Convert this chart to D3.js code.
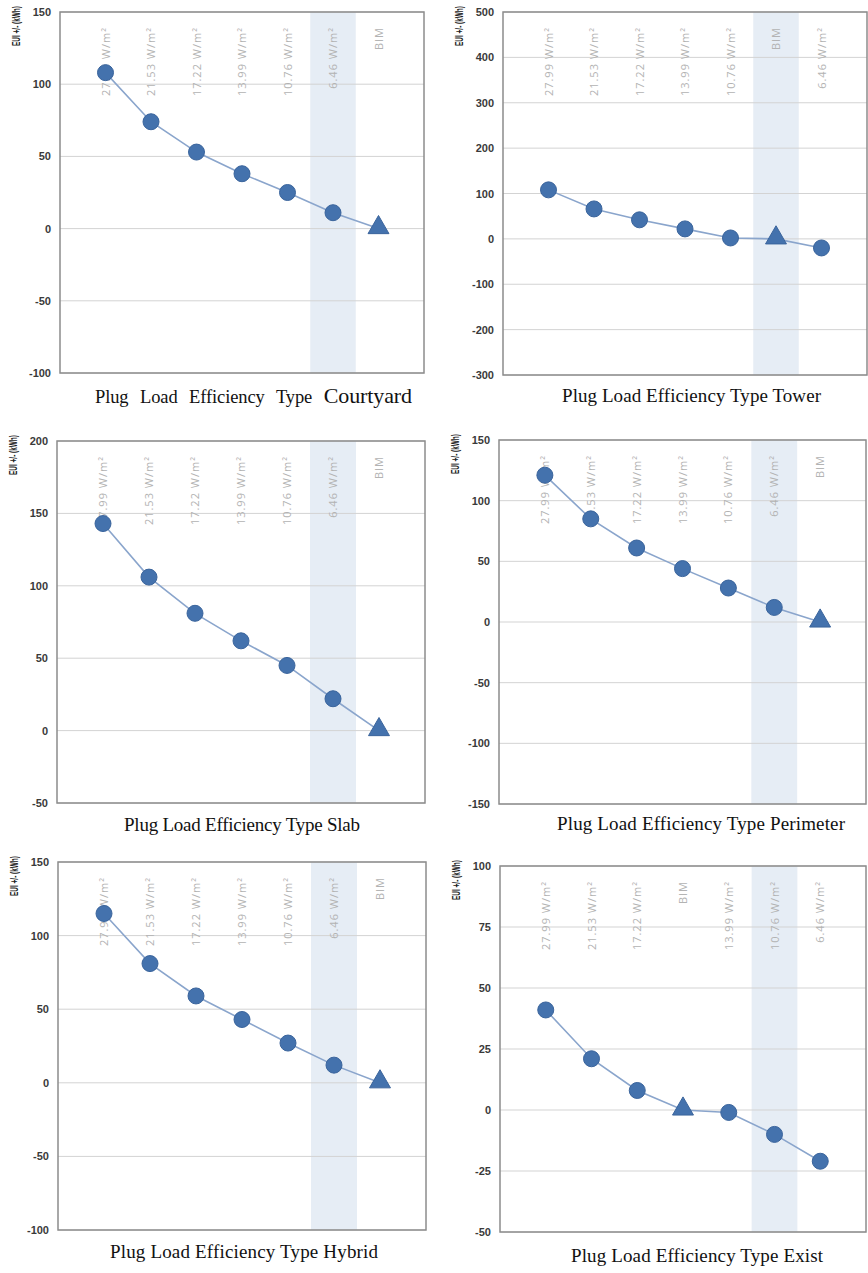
<!DOCTYPE html>
<html>
<head>
<meta charset="utf-8">
<script src="https://cdn.jsdelivr.net/npm/d3@7"></script>
<style>
  html, body { margin: 0; padding: 0; background: #fff; }
  svg { display: block; }
</style>
</head>
<body>
<svg id="chart" width="868" height="1273"></svg>
<script>
// ---------- data ----------
const catsStandard = ["27.99 W/m²", "21.53 W/m²", "17.22 W/m²", "13.99 W/m²", "10.76 W/m²", "6.46 W/m²", "BIM"];
const catsTower    = ["27.99 W/m²", "21.53 W/m²", "17.22 W/m²", "13.99 W/m²", "10.76 W/m²", "BIM", "6.46 W/m²"];
const catsExist    = ["27.99 W/m²", "21.53 W/m²", "17.22 W/m²", "BIM", "13.99 W/m²", "10.76 W/m²", "6.46 W/m²"];

const valuesCourtyard = [108, 74, 53, 38, 25, 11, 0];
const valuesTower     = [108, 66, 42, 22, 2, 0, -20];
const valuesSlab      = [143, 106, 81, 62, 45, 22, 0];
const valuesPerimeter = [121, 85, 61, 44, 28, 12, 0];
const valuesHybrid    = [115, 81, 59, 43, 27, 12, 0];
const valuesExist     = [41, 21, 8, 0, -1, -10, -21];

const ticksCourtyard = [150, 100, 50, 0, -50, -100];
const ticksTower     = [500, 400, 300, 200, 100, 0, -100, -200, -300];
const ticksSlab      = [200, 150, 100, 50, 0, -50];
const ticksPerimeter = [150, 100, 50, 0, -50, -100, -150];
const ticksHybrid    = [150, 100, 50, 0, -50, -100];
const ticksExist     = [100, 75, 50, 25, 0, -25, -50];

const highlightCourtyard = "6.46 W/m²";
const highlightTower     = "BIM";
const highlightSlab      = "6.46 W/m²";
const highlightPerimeter = "6.46 W/m²";
const highlightHybrid    = "6.46 W/m²";
const highlightExist     = "10.76 W/m²";

const baseCategory = "BIM";
const yTitle = "EUI +/- (kWh)";
const captionPrefix = "Plug Load Efficiency Type";
const typeNames = ["Courtyard", "Tower", "Slab", "Perimeter", "Hybrid", "Exist"];

// ---------- layout ----------
const panels = [
  { name: typeNames[0], cats: catsStandard, vals: valuesCourtyard, ticks: ticksCourtyard, hl: highlightCourtyard,
    box: { l: 60, r: 424, t: 12, b: 373 }, cap: { x: 95, y: 403, w: 317, big: true } },
  { name: typeNames[1], cats: catsTower, vals: valuesTower, ticks: ticksTower, hl: highlightTower,
    box: { l: 503, r: 867, t: 12, b: 375 }, cap: { x: 562, y: 402, w: 259 } },
  { name: typeNames[2], cats: catsStandard, vals: valuesSlab, ticks: ticksSlab, hl: highlightSlab,
    box: { l: 57, r: 425, t: 441, b: 803 }, cap: { x: 124, y: 831, w: 236 } },
  { name: typeNames[3], cats: catsStandard, vals: valuesPerimeter, ticks: ticksPerimeter, hl: highlightPerimeter,
    box: { l: 499, r: 866, t: 440, b: 804 }, cap: { x: 557, y: 830, w: 288 } },
  { name: typeNames[4], cats: catsStandard, vals: valuesHybrid, ticks: ticksHybrid, hl: highlightHybrid,
    box: { l: 58, r: 426, t: 862, b: 1230 }, cap: { x: 110, y: 1258, w: 268 } },
  { name: typeNames[5], cats: catsExist, vals: valuesExist, ticks: ticksExist, hl: highlightExist,
    box: { l: 500, r: 866, t: 866, b: 1232 }, cap: { x: 571, y: 1262, w: 252 } }
];

const svg = d3.select("#chart");
const markerFill = "#4472ad";
const markerStroke = "#3a649c";
const lineColor = "#8aa5cc";

panels.forEach(p => {
  const { l, r, t, b } = p.box;
  const g = svg.append("g");
  const x = d3.scalePoint().domain(p.cats).range([l, r]).padding(1);
  const y = d3.scaleLinear().domain([d3.min(p.ticks), d3.max(p.ticks)]).range([b, t]);
  const step = x.step();

  // highlight band
  g.append("rect")
    .attr("x", x(p.hl) - step / 2).attr("y", t)
    .attr("width", step).attr("height", b - t)
    .attr("fill", "#e6edf5");

  // grid lines
  g.selectAll("line.grid").data(p.ticks).join("line")
    .attr("x1", l).attr("x2", r)
    .attr("y1", d => y(d)).attr("y2", d => y(d))
    .attr("stroke", "#d3d3d3").attr("stroke-width", 1);

  // y axis via d3.axisLeft
  const ax = g.append("g").attr("transform", `translate(${l},0)`)
    .call(d3.axisLeft(y).tickValues(p.ticks).tickSize(0).tickPadding(9).tickFormat(d => String(d)));
  ax.select(".domain").remove();
  ax.selectAll("text")
    .attr("font-family", "Arial, 'Liberation Sans', sans-serif")
    .attr("font-size", 11).attr("font-weight", "bold").attr("fill", "#3a3a3a");

  // frame
  g.append("rect")
    .attr("x", l).attr("y", t).attr("width", r - l).attr("height", b - t)
    .attr("fill", "none").attr("stroke", "#8c8c8c").attr("stroke-width", 1.5);

  // category labels (rotated)
  g.selectAll("text.cat").data(p.cats).join("text")
    .attr("transform", d => `translate(${x(d) + 4},${t + 15}) rotate(-90)`)
    .attr("text-anchor", "end")
    .attr("font-family", "'Open Sans', 'DejaVu Sans', sans-serif")
    .attr("font-size", 11)
    .attr("letter-spacing", 1)
    .attr("fill", "#b3b3b3")
    .text(d => d);

  // line
  const pts = p.cats.map((c, i) => ({ c, v: p.vals[i] }));
  g.append("path")
    .datum(pts)
    .attr("d", d3.line().x(d => x(d.c)).y(d => y(d.v)))
    .attr("fill", "none").attr("stroke", lineColor).attr("stroke-width", 1.6);

  // markers
  g.selectAll("circle.pt").data(pts.filter(d => d.c !== baseCategory)).join("circle")
    .attr("cx", d => x(d.c)).attr("cy", d => y(d.v)).attr("r", 8)
    .attr("fill", markerFill).attr("stroke", markerStroke).attr("stroke-width", 1);
  const tri = d3.symbol().type(d3.symbolTriangle).size(190);
  g.selectAll("path.tri").data(pts.filter(d => d.c === baseCategory)).join("path")
    .attr("transform", d => `translate(${x(d.c)},${y(d.v) - 1})`)
    .attr("d", tri)
    .attr("fill", markerFill).attr("stroke", markerStroke).attr("stroke-width", 1);

  // y title (narrowed via horizontal scale so the bbox stays honest)
  const yt = g.append("text")
    .attr("text-anchor", "middle")
    .attr("dy", "0.35em")
    .attr("font-family", "Arial, 'Liberation Sans', sans-serif")
    .attr("font-size", 11).attr("font-weight", "bold").attr("fill", "#222")
    .text(yTitle);
  const natural = yt.node().getComputedTextLength() || 70;
  const sx = 40 / natural;
  yt.attr("transform", `translate(${l - 44},${t + 14}) rotate(-90) scale(${sx},1)`);

  // caption
  const cap = g.append("text")
    .attr("x", p.cap.x).attr("y", p.cap.y)
    .attr("font-family", "'Liberation Serif', 'Times New Roman', serif")
    .attr("fill", "#111");
  if (p.cap.big) {
    cap.append("tspan").attr("font-size", 18.5).attr("word-spacing", 7).text(captionPrefix + " ");
    cap.append("tspan").attr("font-size", 22).text(p.name);
  } else {
    cap.attr("font-size", 19).text(captionPrefix + " " + p.name);
  }
  cap.attr("textLength", p.cap.w).attr("lengthAdjust", "spacing");
});
</script>
</body>
</html>
